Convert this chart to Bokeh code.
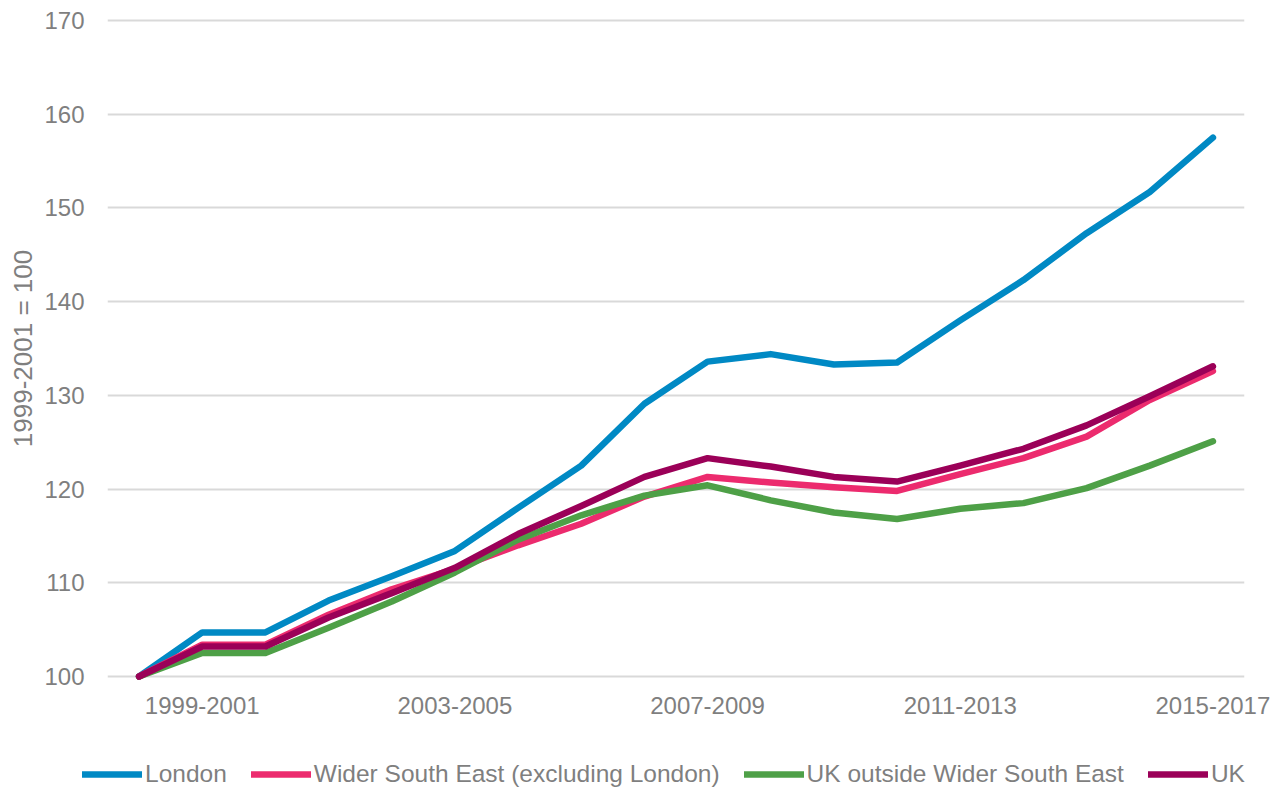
from bokeh.plotting import figure
from bokeh.models import FixedTicker, Legend, LegendItem, Range1d
from bokeh.layouts import column
from bokeh.embed import file_html
from bokeh.resources import INLINE

periods = ["1998-2000", "1999-2001", "2000-2002", "2001-2003", "2002-2004", "2003-2005",
           "2004-2006", "2005-2007", "2006-2008", "2007-2009", "2008-2010", "2009-2011",
           "2010-2012", "2011-2013", "2012-2014", "2013-2015", "2014-2016", "2015-2017"]

london = [100, 104.7, 104.7, 108.1, 110.7, 113.4, 118.0, 122.5, 129.1, 133.6,
          134.4, 133.3, 133.5, 138.0, 142.3, 147.3, 151.7, 157.5]
wider_south_east = [100, 103.4, 103.4, 106.6, 109.3, 111.5, 114.0, 116.3, 119.2, 121.3,
                    120.7, 120.2, 119.8, 121.6, 123.3, 125.6, 129.5, 132.6]
uk_outside_wse = [100, 102.5, 102.5, 105.2, 108.0, 111.1, 114.6, 117.2, 119.3, 120.4,
                  118.8, 117.5, 116.8, 117.9, 118.5, 120.1, 122.5, 125.1]
uk = [100, 103.2, 103.2, 106.3, 108.9, 111.6, 115.2, 118.2, 121.3, 123.3,
      122.4, 121.3, 120.8, 122.5, 124.3, 126.8, 129.9, 133.1]

series_names = ["London", "Wider South East (excluding London)",
                "UK outside Wider South East", "UK"]
series_colors = ["#0089C4", "#EC2B6E", "#4EA047", "#9B0058"]
series_values = [london, wider_south_east, uk_outside_wse, uk]

x_ticks = [1, 5, 9, 13, 17]
y_ticks = [100, 110, 120, 130, 140, 150, 160, 170]

FONT = "Liberation Sans"
GREY = "#7F7F7F"
LW = 6.5

frame_h = 664
pad = 4 * 70 / 656.0
p = figure(frame_width=1137, frame_height=frame_h,
           x_range=Range1d(-0.5, len(periods) - 0.5),
           y_range=Range1d(100 - pad, 170 + pad),
           output_backend="svg", toolbar_location=None,
           min_border_left=107, min_border_right=30,
           min_border_top=16, min_border_bottom=79)

p.outline_line_color = None
p.background_fill_color = "white"
p.border_fill_color = "white"

xs = list(range(len(periods)))
for vals, col in zip(series_values, series_colors):
    p.line(xs, vals, line_color=col, line_width=LW,
           line_cap="round", line_join="round")

# axes
p.xaxis.ticker = FixedTicker(ticks=x_ticks)
p.xaxis.major_label_overrides = {i: periods[i] for i in x_ticks}
p.yaxis.ticker = FixedTicker(ticks=y_ticks)
for ax in (p.xaxis, p.yaxis):
    ax.axis_line_color = None
    ax.major_tick_line_color = None
    ax.minor_tick_line_color = None
    ax.major_tick_out = 0
    ax.major_tick_in = 0
    ax.major_label_text_font = FONT
    ax.major_label_text_font_size = "24px"
    ax.major_label_text_color = GREY
p.xaxis.major_label_standoff = 16
p.yaxis.major_label_standoff = 23
p.yaxis.axis_label = "1999-2001 = 100"
p.yaxis.axis_label_text_font = FONT
p.yaxis.axis_label_text_font_size = "26px"
p.yaxis.axis_label_text_font_style = "normal"
p.yaxis.axis_label_text_color = GREY
p.yaxis.axis_label_standoff = 3

p.xgrid.grid_line_color = None
p.ygrid.grid_line_color = "#D9D9D9"
p.ygrid.grid_line_width = 2

# legend strip (separate figure so the legend is not clipped by the plot frame)
lg = figure(frame_width=1266, frame_height=30, x_range=Range1d(0, 1), y_range=Range1d(0, 1),
            output_backend="svg", toolbar_location=None,
            min_border_left=0, min_border_right=0, min_border_top=0, min_border_bottom=0,
            x_axis_type=None, y_axis_type=None)
lg.outline_line_color = None
lg.grid.visible = False
leg_renderers = []
for col in series_colors:
    # placeholder lines lying outside the visible range; only their legend glyphs show
    leg_renderers.append(lg.line([5, 6], [5, 6], line_color=col, line_width=LW, line_cap="round"))

legend = Legend(items=[LegendItem(label=n, renderers=[r]) for n, r in zip(series_names, leg_renderers)],
                orientation="horizontal", location=(82, 1),
                glyph_width=60, glyph_height=20, label_height=20,
                label_standoff=3, spacing=24, padding=0, margin=0,
                border_line_color=None, background_fill_alpha=0,
                label_text_font=FONT, label_text_font_size="24.5px",
                label_text_color=GREY)
lg.add_layout(legend, "center")

layout = column(p, lg, spacing=0)
open("out.html", "w").write(file_html(layout, INLINE))
